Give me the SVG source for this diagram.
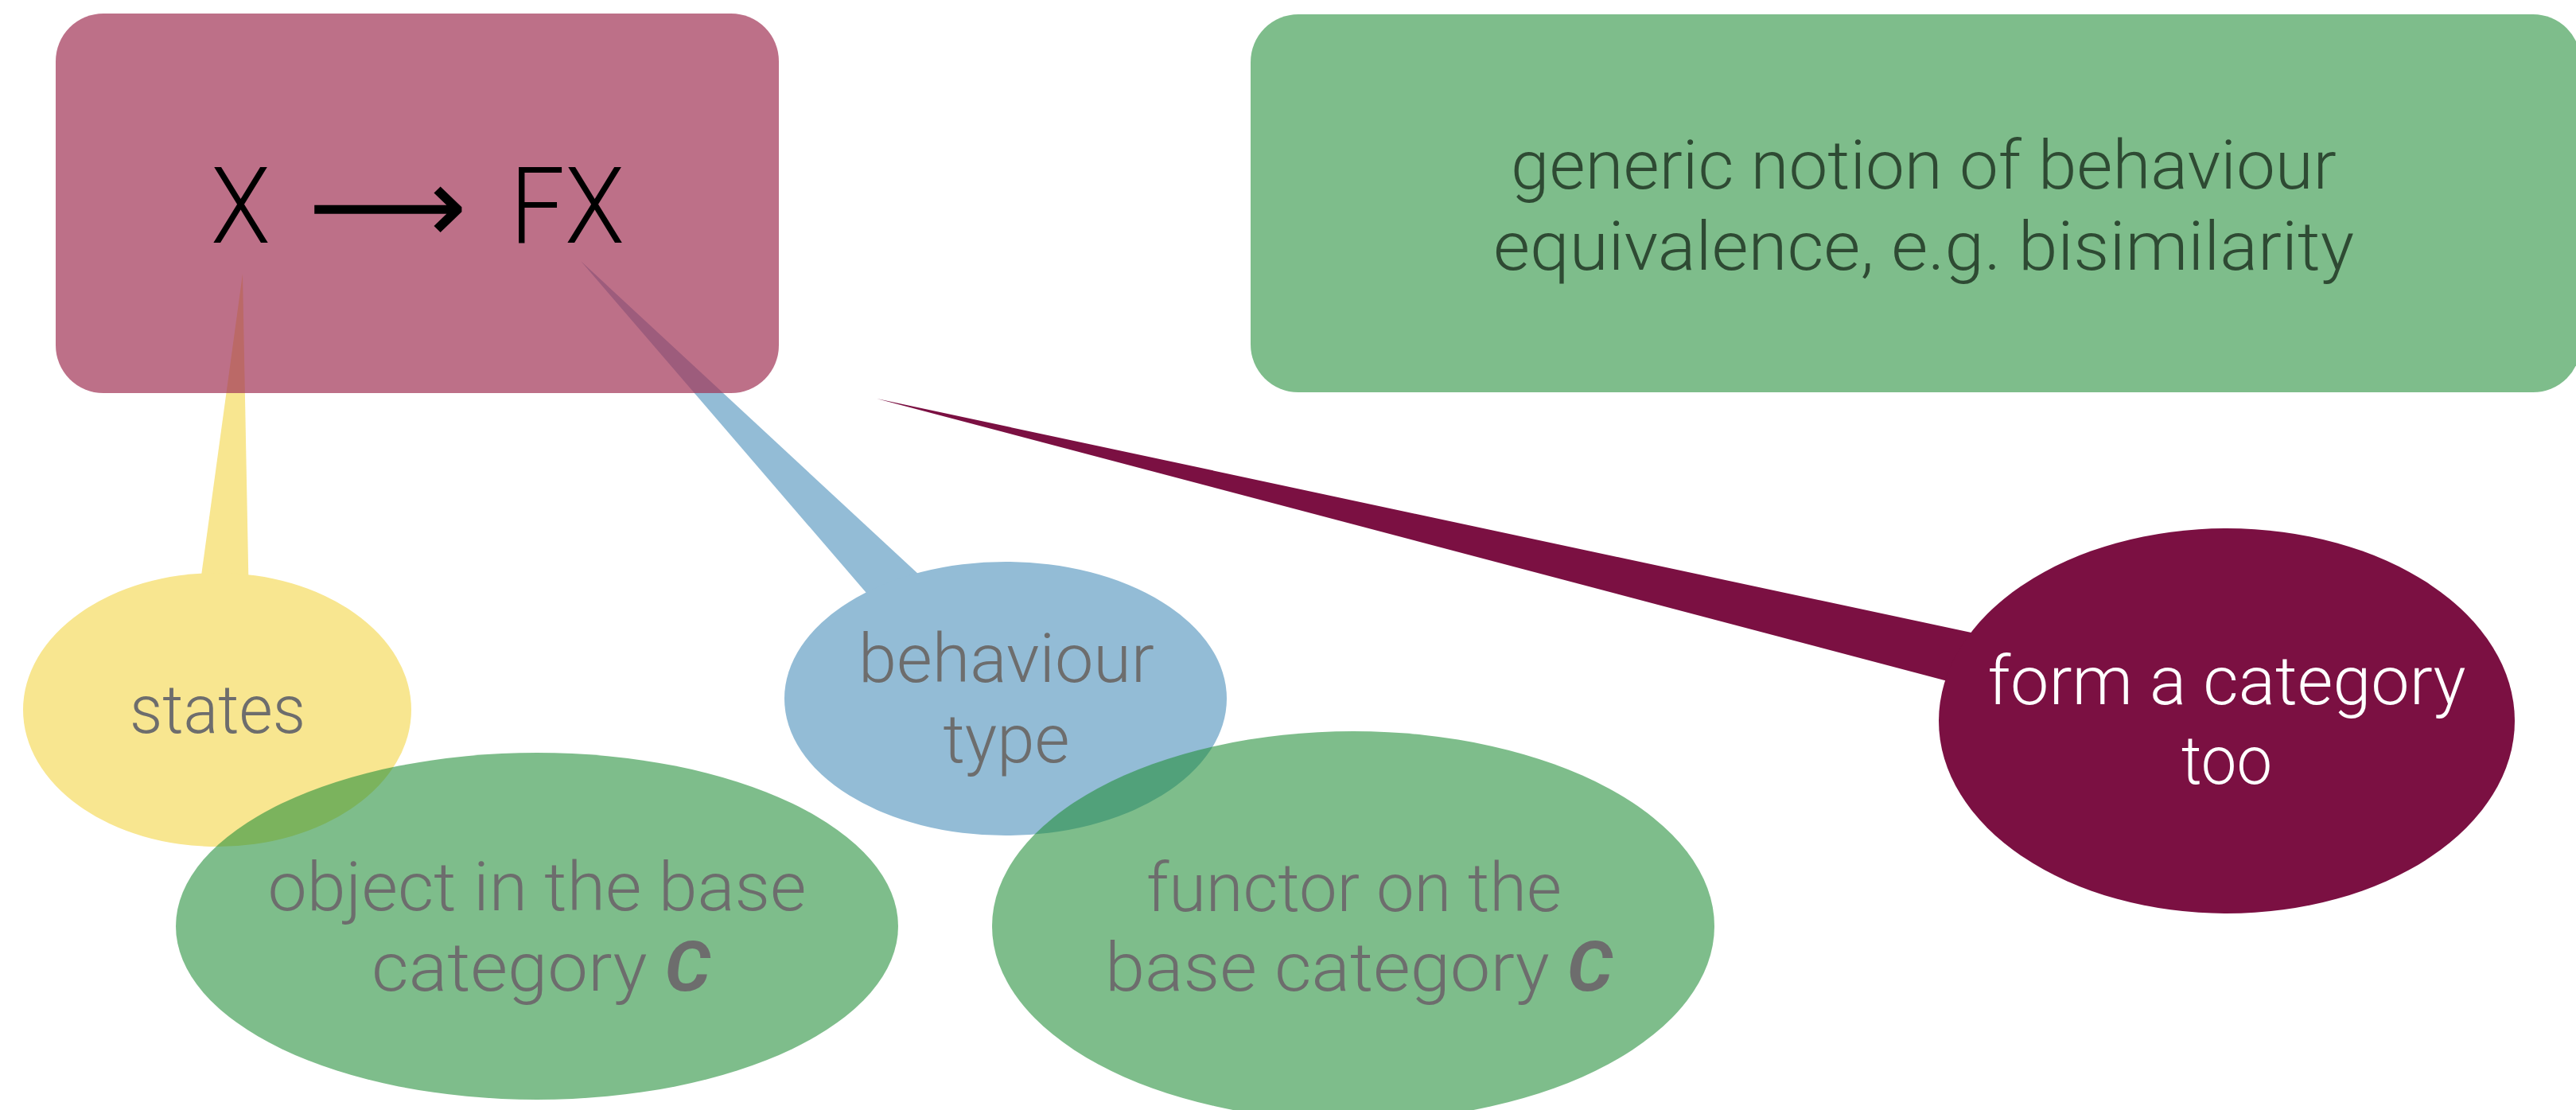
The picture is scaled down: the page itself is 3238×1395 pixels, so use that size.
<svg xmlns="http://www.w3.org/2000/svg" width="3238" height="1395" viewBox="0 0 3238 1395">
  <style>
    text { font-family: "Roboto", "Liberation Sans", "DejaVu Sans", sans-serif; font-weight: 300; font-size: 86px; text-anchor: middle; }
    .gray { fill: #6d6d6d; }
    .dark { fill: #2e4a33; }
    .light { fill: #ffffff; }
    .big { font-size: 134px; fill: #000000; text-anchor: start; }
    .arrow { font-family: "DejaVu Sans", sans-serif; font-weight: 400; }
    .bi { font-weight: 700; font-style: italic; }
    .yellow { fill: #f8e690; }
    .blue { fill: #93bcd6; }
    .pink { fill: #a13356; fill-opacity: 0.7; }
    .green { fill: #238f39; fill-opacity: 0.59; }
    .maroon { fill: #7b1042; }
  </style>

  <!-- callout pointers -->
  <g id="connectors">
    <polygon class="yellow" points="305,344 248,760 313,760"/>
    <polygon class="blue" points="730,328 1119,780 1196,760"/>
    <polygon class="maroon" points="1102,501 2520,804 2520,875"/>
  </g>

  <g id="states">
    <ellipse class="yellow" cx="273" cy="892" rx="244" ry="172"/>
    <text class="gray" x="273.5" y="921" textLength="221" lengthAdjust="spacingAndGlyphs">states</text>
  </g>

  <g id="behaviour-type">
    <ellipse class="blue" cx="1264" cy="878" rx="278" ry="172"/>
    <text class="gray" x="1265" y="857" textLength="372" lengthAdjust="spacingAndGlyphs">behaviour</text>
    <text class="gray" x="1265" y="958" textLength="159" lengthAdjust="spacingAndGlyphs">type</text>
  </g>

  <g id="coalgebra">
    <rect class="pink" x="70" y="17" width="909" height="477" rx="60" ry="60"/>
    <text class="big" x="265" y="305" textLength="75" lengthAdjust="spacingAndGlyphs">X</text>
    <text class="big arrow" x="387" y="305" textLength="200" lengthAdjust="spacingAndGlyphs">⟶</text>
    <text class="big" x="641" y="305" textLength="144" lengthAdjust="spacingAndGlyphs">FX</text>
  </g>

  <g id="object">
    <ellipse class="green" cx="675" cy="1164" rx="454" ry="218"/>
    <text class="gray" x="675" y="1144" textLength="677" lengthAdjust="spacingAndGlyphs">object in the base</text>
    <text class="gray" x="680" y="1245" textLength="426" lengthAdjust="spacingAndGlyphs">category <tspan class="bi">C</tspan></text>
  </g>

  <g id="functor">
    <ellipse class="green" cx="1701" cy="1164" rx="454" ry="245"/>
    <text class="gray" x="1702" y="1145" textLength="522" lengthAdjust="spacingAndGlyphs">functor on the</text>
    <text class="gray" x="1708" y="1245" textLength="638" lengthAdjust="spacingAndGlyphs">base category <tspan class="bi">C</tspan></text>
  </g>

  <g id="category">
    <ellipse class="maroon" cx="2799" cy="906" rx="362" ry="242"/>
    <text class="light" x="2799" y="885" textLength="601" lengthAdjust="spacingAndGlyphs">form a category</text>
    <text class="light" x="2799" y="985" textLength="114" lengthAdjust="spacingAndGlyphs">too</text>
  </g>

  <g id="equivalence">
    <rect class="green" x="1572" y="18" width="1672" height="475" rx="60" ry="60"/>
    <text class="dark" x="2418" y="237" textLength="1038" lengthAdjust="spacingAndGlyphs">generic notion of behaviour</text>
    <text class="dark" x="2418" y="339" textLength="1082" lengthAdjust="spacingAndGlyphs">equivalence, e.g. bisimilarity</text>
  </g>
</svg>
